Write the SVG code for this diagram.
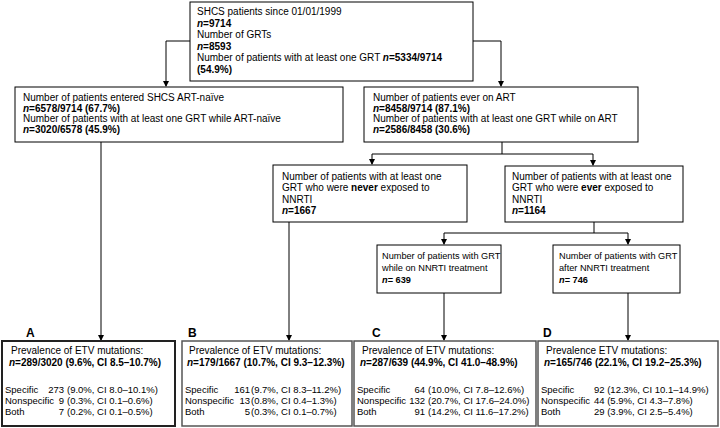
<svg xmlns="http://www.w3.org/2000/svg" width="720" height="428" viewBox="0 0 720 428">
<defs>
<marker id="ah" markerWidth="6" markerHeight="6" refX="5" refY="3" orient="auto" markerUnits="userSpaceOnUse">
<path d="M0,0 L6,3 L0,6 Z" fill="#000"/>
</marker>
<style>
text{font-family:"Liberation Sans",Arial,sans-serif;font-size:10px;fill:#000}
.b{font-weight:bold}
.i{font-style:italic}
.box{fill:#fff;stroke:#000;stroke-width:1}
.bbox{fill:#fff;stroke:#555;stroke-width:1.5}
.abox{fill:#fff;stroke:#222;stroke-width:2}
.s{font-size:9.5px}
.m{font-size:9.2px}
.lab{font-size:12px;font-weight:bold}
.c{fill:none;stroke:#000;stroke-width:1}
</style>
</defs>
<rect width="720" height="428" fill="#fff"/>

<g id="connectors">
<path class="c" d="M190,41 H166 V86" marker-end="url(#ah)"/>
<path class="c" d="M473,41 H501 V86" marker-end="url(#ah)"/>
<path class="c" d="M101,142 V340" marker-end="url(#ah)"/>
<path class="c" d="M502,142 V154 H372 V164" marker-end="url(#ah)"/>
<path class="c" d="M502,154 H593 V165" marker-end="url(#ah)"/>
<path class="c" d="M289,222 V340" marker-end="url(#ah)"/>
<path class="c" d="M594,222 V233 H444 V244" marker-end="url(#ah)"/>
<path class="c" d="M594,233 H628 V244" marker-end="url(#ah)"/>
<path class="c" d="M444,293 V340" marker-end="url(#ah)"/>
<path class="c" d="M628,293 V340" marker-end="url(#ah)"/>
</g>

<g id="top">
<rect class="box" x="190" y="2" width="283" height="79"/>
<text x="197" y="15">SHCS patients since 01/01/1999</text>
<text x="197" y="26.6" class="b"><tspan class="i">n</tspan>=9714</text>
<text x="197" y="38.2">Number of GRTs</text>
<text x="197" y="49.8" class="b"><tspan class="i">n</tspan>=8593</text>
<text x="197" y="61.4">Number of patients with at least one GRT <tspan class="b"><tspan class="i">n</tspan>=5334/9714</tspan></text>
<text x="197" y="73" class="b">(54.9%)</text>
</g>

<g id="naive">
<rect class="box" x="15" y="87" width="328" height="55"/>
<text x="23" y="101">Number of patients entered SHCS ART-naïve</text>
<text x="23" y="111.5" class="b"><tspan class="i">n</tspan>=6578/9714 (67.7%)</text>
<text x="23" y="122">Number of patients with at least one GRT while ART-naïve</text>
<text x="23" y="132.5" class="b"><tspan class="i">n</tspan>=3020/6578 (45.9%)</text>
</g>

<g id="everart">
<rect class="box" x="364" y="87" width="274" height="55"/>
<text x="373" y="101">Number of patients ever on ART</text>
<text x="373" y="111.5" class="b"><tspan class="i">n</tspan>=8458/9714 (87.1%)</text>
<text x="373" y="122">Number of patients with at least one GRT while on ART</text>
<text x="373" y="132.5" class="b"><tspan class="i">n</tspan>=2586/8458 (30.6%)</text>
</g>

<g id="never">
<rect class="box" x="273" y="165" width="194" height="57"/>
<text x="282" y="179.5">Number of patients with at least one</text>
<text x="282" y="191">GRT who were <tspan class="b">never</tspan> exposed to</text>
<text x="282" y="202.5">NNRTI</text>
<text x="282" y="214" class="b"><tspan class="i">n</tspan>=1667</text>
</g>

<g id="ever">
<rect class="box" x="505" y="166" width="178" height="56"/>
<text x="512" y="179.5">Number of patients with at least one</text>
<text x="512" y="191">GRT who were <tspan class="b">ever</tspan> exposed to</text>
<text x="512" y="202.5">NNRTI</text>
<text x="512" y="214" class="b"><tspan class="i">n</tspan>=1164</text>
</g>

<g id="whileon">
<rect class="box" x="377" y="245" width="124" height="48"/>
<text x="382" y="258.5" class="m">Number of patients with GRT</text>
<text x="382" y="270.5" class="m">while on NNRTI treatment</text>
<text x="382" y="282.5" class="m b"><tspan class="i">n</tspan>= 639</text>
</g>

<g id="after">
<rect class="box" x="553" y="245" width="127" height="48"/>
<text x="559" y="258.5" class="m">Number of patients with GRT</text>
<text x="559" y="270.5" class="m">after NNRTI treatment</text>
<text x="559" y="282.5" class="m b"><tspan class="i">n</tspan>= 746</text>
</g>

<g id="boxA">
<text x="26" y="337" class="lab">A</text>
<rect class="abox" x="2" y="341" width="173" height="85"/>
<text x="11" y="354">Prevalence of ETV mutations:</text>
<text x="9" y="365.5" class="b"><tspan class="i">n</tspan>=289/3020 (9.6%, CI 8.5–10.7%)</text>
<text x="5" y="393" class="s">Specific</text>
<text x="5" y="404" class="s">Nonspecific</text>
<text x="5" y="414.5" class="s">Both</text>
<text x="64" y="393" class="s" text-anchor="end">273</text>
<text x="64" y="404" class="s" text-anchor="end">9</text>
<text x="64" y="414.5" class="s" text-anchor="end">7</text>
<text x="67" y="393" class="s">(9.0%, CI 8.0–10.1%)</text>
<text x="67" y="404" class="s">(0.3%, CI 0.1–0.6%)</text>
<text x="67" y="414.5" class="s">(0.2%, CI 0.1–0.5%)</text>
</g>

<g id="boxB">
<text x="188" y="337" class="lab">B</text>
<rect class="bbox" x="182" y="341" width="170" height="85"/>
<text x="189" y="354">Prevalence of ETV mutations:</text>
<text x="187" y="365.5" class="b"><tspan class="i">n</tspan>=179/1667 (10.7%, CI 9.3–12.3%)</text>
<text x="185" y="393" class="s">Specific</text>
<text x="185" y="404" class="s">Nonspecific</text>
<text x="185" y="414.5" class="s">Both</text>
<text x="250" y="393" class="s" text-anchor="end">161</text>
<text x="250" y="404" class="s" text-anchor="end">13</text>
<text x="250" y="414.5" class="s" text-anchor="end">5</text>
<text x="251" y="393" class="s">(9.7%, CI 8.3–11.2%)</text>
<text x="251" y="404" class="s">(0.8%, CI 0.4–1.3%)</text>
<text x="251" y="414.5" class="s">(0.3%, CI 0.1–0.7%)</text>
</g>

<g id="boxC">
<text x="372" y="337" class="lab">C</text>
<rect class="bbox" x="354" y="341" width="182" height="85"/>
<text x="362" y="354">Prevalence of ETV mutations:</text>
<text x="360" y="365.5" class="b"><tspan class="i">n</tspan>=287/639 (44.9%, CI 41.0–48.9%)</text>
<text x="357" y="393" class="s">Specific</text>
<text x="357" y="404" class="s">Nonspecific</text>
<text x="357" y="414.5" class="s">Both</text>
<text x="425" y="393" class="s" text-anchor="end">64</text>
<text x="425" y="404" class="s" text-anchor="end">132</text>
<text x="425" y="414.5" class="s" text-anchor="end">91</text>
<text x="428" y="393" class="s">(10.0%, CI 7.8–12.6%)</text>
<text x="428" y="404" class="s">(20.7%, CI 17.6–24.0%)</text>
<text x="428" y="414.5" class="s">(14.2%, CI 11.6–17.2%)</text>
</g>

<g id="boxD">
<text x="543" y="337" class="lab">D</text>
<rect class="bbox" x="538" y="341" width="180" height="85"/>
<text x="546" y="354">Prevalence ETV mutations:</text>
<text x="544" y="365.5" class="b"><tspan class="i">n</tspan>=165/746 (22.1%, CI 19.2–25.3%)</text>
<text x="541" y="393" class="s">Specific</text>
<text x="541" y="404" class="s">Nonspecific</text>
<text x="541" y="414.5" class="s">Both</text>
<text x="594" y="393" class="s">92 (12.3%, CI 10.1–14.9%)</text>
<text x="594" y="404" class="s">44 (5.9%, CI 4.3–7.8%)</text>
<text x="594" y="414.5" class="s">29 (3.9%, CI 2.5–5.4%)</text>
</g>
</svg>
